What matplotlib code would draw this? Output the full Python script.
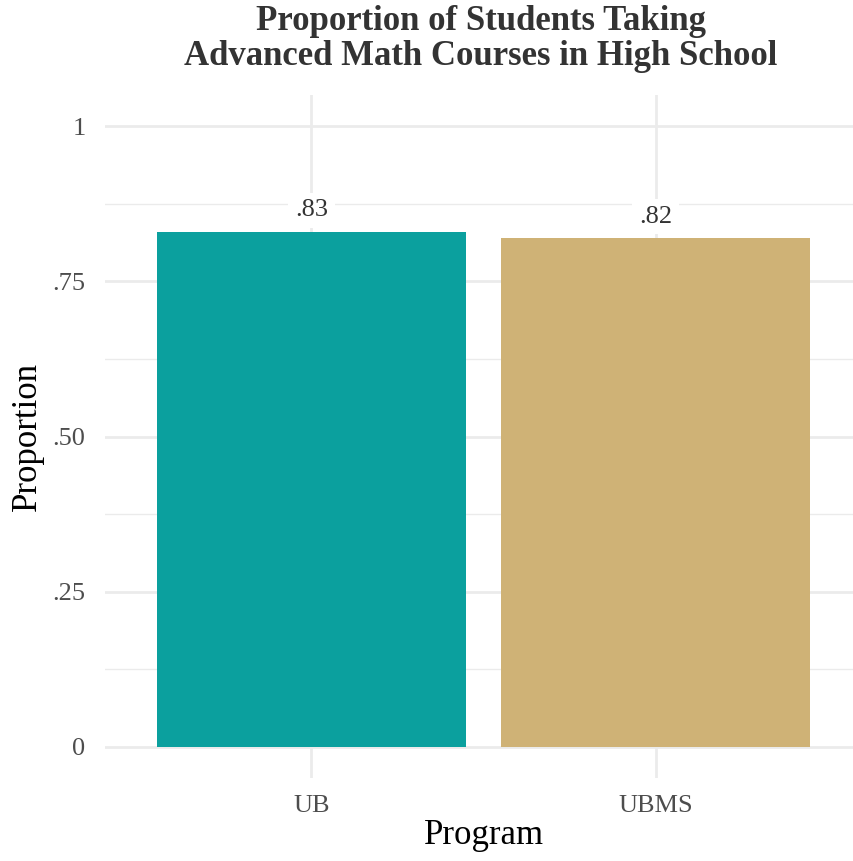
import matplotlib
matplotlib.use("Agg")
import matplotlib.pyplot as plt
import numpy as np

programs = ["UB", "UBMS"]
proportions = [0.83, 0.82]
bar_labels = [".83", ".82"]
colors = ["#0BA09E", "#CFB276"]
yticks = [0, 0.25, 0.5, 0.75, 1.0]
ytick_labels = ["0", ".25", ".50", ".75", "1"]

plt.rcParams["font.family"] = ["Liberation Serif", "DejaVu Serif"]

W, H = 854, 861
fig = plt.figure(figsize=(W / 100, H / 100), dpi=100)
left, right = 105, 862
bottom, top = 778, 95
ax = fig.add_axes([left / W, 1 - bottom / H, (right - left) / W, (bottom - top) / H])

x = np.arange(1, len(programs) + 1)
ax.bar(x, proportions, width=0.9, color=colors, zorder=2)
for xi, p, lab in zip(x, proportions, bar_labels):
    ax.text(xi, p + 0.034, lab, ha="center", va="center", fontsize=19, color="#333333",
            bbox=dict(boxstyle="square,pad=0.25", fc="white", ec="none"), zorder=3)

ax.set_xlim(0.4, 2.6)
ax.set_ylim(-0.05, 1.05)
ax.set_xticks(x)
ax.set_xticklabels(programs)
ax.set_yticks(yticks)
ax.set_yticklabels(ytick_labels)
ax.set_yticks([0.125, 0.375, 0.625, 0.875], minor=True)
ax.set_xticks([], minor=True)

ax.grid(True, which="major", color="#EBEBEB", linewidth=2.0, zorder=0)
ax.grid(True, which="minor", axis="y", color="#EBEBEB", linewidth=1.0, zorder=0)
ax.set_axisbelow(True)
for s in ax.spines.values():
    s.set_visible(False)
ax.tick_params(which="both", length=0)
ax.tick_params(axis="both", labelsize=19, labelcolor="#4D4D4D")
ax.tick_params(axis="x", pad=12)
ax.tick_params(axis="y", pad=14)

ax.set_xlabel("Program", fontsize=25, labelpad=2)
ax.set_ylabel("Proportion", fontsize=25, labelpad=6)

fig.text(481 / W, 1 - 39 / H, "Proportion of Students Taking\nAdvanced Math Courses in High School",
         ha="center", va="center", fontsize=25, fontweight="bold", color="#333333",
         linespacing=1.05)

fig.savefig("out.png", dpi=100)
